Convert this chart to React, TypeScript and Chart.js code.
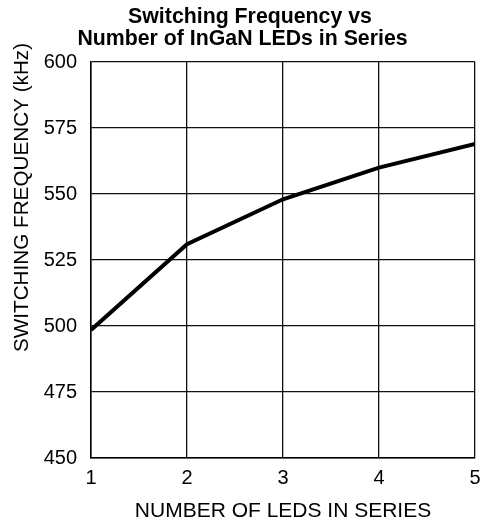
import React, { useEffect, useRef } from "react";
import { Chart, registerables } from "chart.js";

Chart.register(...registerables);

const ledCounts = [1, 2, 3, 4, 5];
const frequencyKHz = [498.5, 531, 548, 560, 569];
const yMin = 450;
const yMax = 600;
const yStep = 25;
const xMin = 1;
const xMax = 5;
const titleLines = ["Switching Frequency vs", "Number of InGaN LEDs in Series"];
const xAxisTitle = "NUMBER OF LEDS IN SERIES";
const yAxisTitle = "SWITCHING FREQUENCY (kHz)";

const FONT = "'Liberation Sans', Arial, Helvetica, sans-serif";

// text placement (layout only)
const titleCenters = [250, 242.5];
const titleBaselines = [22.5, 44.6];

const textPlugin = {
  id: "textPlugin",
  afterDraw(chart: any) {
    const ctx = chart.ctx;
    ctx.save();
    ctx.fillStyle = "#000";
    ctx.font = `bold 21.3px ${FONT}`;
    ctx.textAlign = "center";
    ctx.textBaseline = "alphabetic";
    titleLines.forEach((line, i) => {
      ctx.fillText(line, titleCenters[i], titleBaselines[i]);
    });
    ctx.translate(22, 197.5);
    ctx.rotate(-Math.PI / 2);
    ctx.font = `20.7px ${FONT}`;
    ctx.textAlign = "center";
    ctx.textBaseline = "middle";
    ctx.fillText(yAxisTitle, 0, 0);
    ctx.restore();
  },
};

export default function App() {
  const ref = useRef<HTMLCanvasElement | null>(null);

  useEffect(() => {
    document.body.style.margin = "0";
    const canvas = ref.current;
    if (!canvas) return;
    Chart.defaults.font.family = FONT;
    const chart = new Chart(canvas, {
      type: "line",
      data: {
        datasets: [
          {
            data: ledCounts.map((x, i) => ({ x, y: frequencyKHz[i] })),
            borderColor: "#000",
            borderWidth: 4,
            pointRadius: 0,
            tension: 0,
            fill: false,
          },
        ],
      },
      plugins: [textPlugin],
      options: {
        responsive: false,
        animation: false,
        layout: { padding: { left: 0, right: 0, top: 62, bottom: 0 } },
        plugins: {
          legend: { display: false },
          tooltip: { enabled: false },
          title: { display: false },
        },
        scales: {
          x: {
            type: "linear",
            min: xMin,
            max: xMax,
            afterFit: (s: any) => {
              s.height = 69;
              s.paddingRight = 7;
              s.paddingLeft = 0;
            },
            ticks: {
              stepSize: 1,
              color: "#000",
              font: { size: 20 },
              padding: 8,
              maxRotation: 0,
            },
            grid: { color: "#111", lineWidth: 1.3, drawTicks: false },
            border: { color: "#000", width: 1.5 },
            title: {
              display: true,
              text: xAxisTitle,
              color: "#000",
              font: { size: 21 },
              padding: { top: 0, bottom: 3.4 },
            },
          },
          y: {
            type: "linear",
            min: yMin,
            max: yMax,
            afterFit: (s: any) => {
              s.width = 91;
              s.paddingTop = 0;
              s.paddingBottom = 0;
            },
            ticks: {
              stepSize: yStep,
              color: "#000",
              font: { size: 20 },
              padding: 14,
            },
            grid: { color: "#111", lineWidth: 1.3, drawTicks: false },
            border: { color: "#000", width: 1.5 },
          },
        },
      },
    } as any);
    return () => chart.destroy();
  }, []);

  return (
    <div style={{ position: "absolute", left: 0, top: 0, width: 482, height: 527 }}>
      <canvas ref={ref} width={482} height={527} style={{ display: "block" }} />
    </div>
  );
}
